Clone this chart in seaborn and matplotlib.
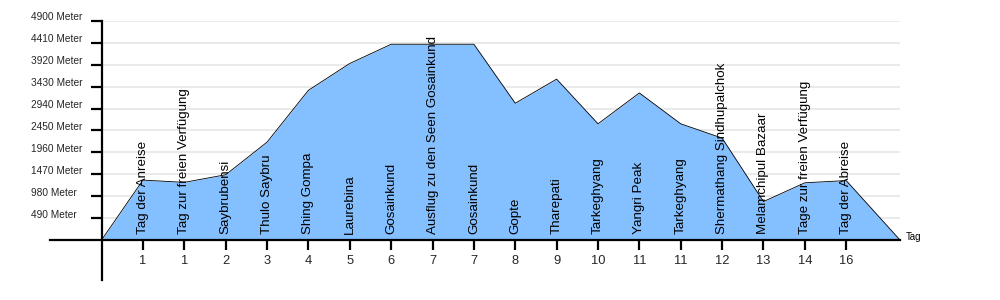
import matplotlib
matplotlib.use("Agg")
import matplotlib.pyplot as plt
import matplotlib.transforms as mtransforms
import seaborn as sns
import numpy as np
import pandas as pd

# ---- data ----
stations = ["Tag der Anreise", "Tag zur freien Verfügung", "Saybrubensi", "Thulo Saybru",
            "Shing Gompa", "Laurebina", "Gosainkund", "Ausflug zu den Seen Gosainkund",
            "Gosainkund", "Gopte", "Tharepati", "Tarkeghyang", "Yangri Peak", "Tarkeghyang",
            "Shermathang Sindhupalchok", "Melamchipul Bazaar", "Tage zur freien Verfügung",
            "Tag der Abreise"]
days = ["1", "1", "2", "3", "4", "5", "6", "7", "7", "8", "9", "10", "11", "11",
        "12", "13", "14", "16"]
elevation = [1340, 1290, 1460, 2190, 3350, 3950, 4380, 4380, 4380, 3060, 3600,
             2600, 3290, 2600, 2280, 860, 1280, 1330]
start_elevation = 0
end_elevation = 0
end_position = 19.3
y_ticks = [490, 980, 1470, 1960, 2450, 2940, 3430, 3920, 4410, 4900]
y_tick_labels = [f"{v} Meter" for v in y_ticks]
x_axis_label = "Tag"

# ---- build profile ----
pos = list(range(1, len(stations) + 1))
profile = pd.DataFrame({
    "x": [0] + pos + [end_position],
    "elev": [start_elevation] + elevation + [end_elevation],
})

sns.set_theme(style="white")
plt.rcParams["font.family"] = ["Liberation Sans", "DejaVu Sans"]

fig = plt.figure(figsize=(10, 3), dpi=100)
ax = fig.add_axes([50 / 1000, 20 / 300, 850 / 1000, 259 / 300])
ax.set_facecolor("white")

xmin, xmax = -1.246, end_position
ax.set_xlim(xmin, xmax)
ax.set_ylim(-895, 4900)

# grid lines (only right of y axis)
ax.hlines(y_ticks, 0, xmax, colors="#e6e6e6", linewidth=1.2, zorder=0)

ax.fill_between(profile["x"], profile["elev"], 0, color="#84bfff", zorder=1, linewidth=0)
sns.lineplot(data=profile, x="x", y="elev", ax=ax, color="black", linewidth=0.6,
             zorder=2, sort=False)

# spines crossing at origin
for s in ["top", "right"]:
    ax.spines[s].set_visible(False)
ax.spines["left"].set_position(("data", 0))
ax.spines["bottom"].set_position(("data", 0))
for s in ["left", "bottom"]:
    ax.spines[s].set_linewidth(1.6)
    ax.spines[s].set_color("black")
    ax.spines[s].set_zorder(3)

ax.set_xticks(pos)
ax.set_xticklabels(days)
ax.set_yticks(y_ticks)
ax.set_yticklabels(y_tick_labels)
ax.tick_params(axis="x", direction="out", length=7.5, width=1.6, color="black",
               labelsize=9.3, pad=3, bottom=True)
ax.tick_params(axis="y", direction="out", length=8, width=1.6, color="black",
               labelsize=7.3, pad=43, left=True)
offset = mtransforms.ScaledTranslation(0, 4.5 / 100, fig.dpi_scale_trans)
for lbl in ax.get_yticklabels():
    lbl.set_horizontalalignment("left")
    lbl.set_transform(lbl.get_transform() + offset)
ax.set_xlabel("")
ax.set_ylabel("")

# station labels
for p, name in zip(pos, stations):
    ax.annotate(name, xy=(p, 0), xytext=(0, 4.5), textcoords="offset points",
                rotation=90, ha="center", va="bottom", fontsize=9.6, color="black",
                zorder=4)

ax.annotate(x_axis_label, xy=(1, 0), xycoords=("axes fraction", "data"),
            xytext=(4, 2.5), textcoords="offset points", ha="left", va="center",
            fontsize=7, color="black", annotation_clip=False)

fig.savefig("out.png", dpi=100, facecolor="white")
